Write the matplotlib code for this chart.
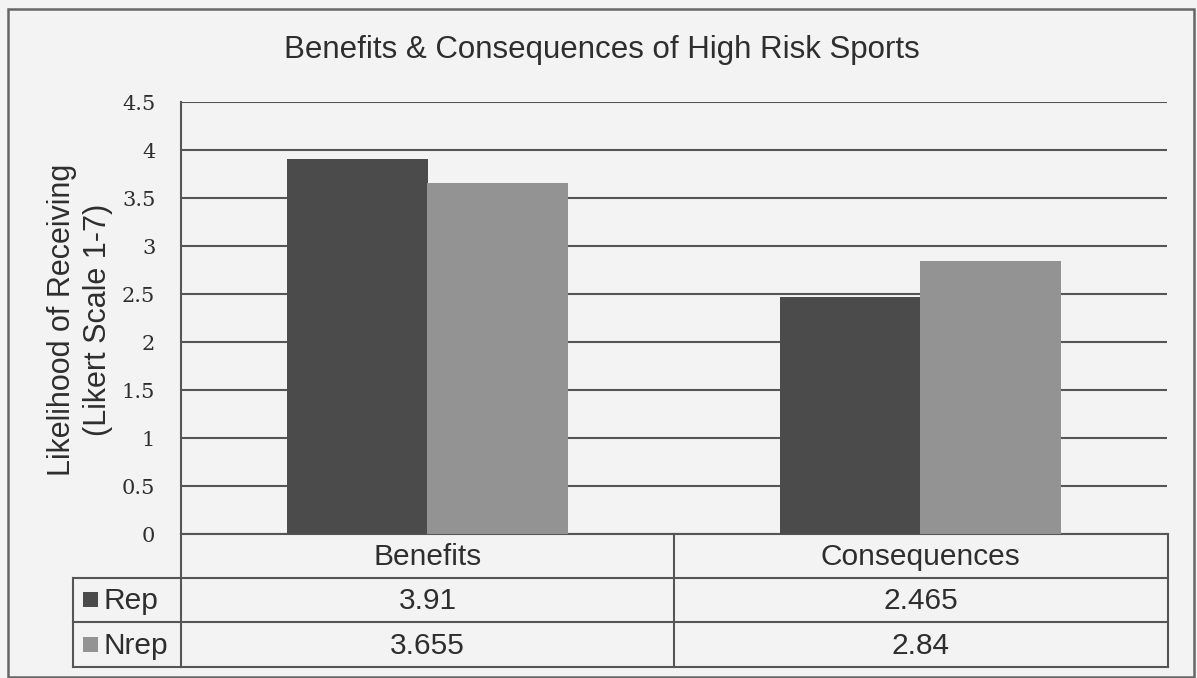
import matplotlib
matplotlib.use("Agg")
import matplotlib.pyplot as plt
from matplotlib.patches import Rectangle
from matplotlib.transforms import blended_transform_factory
import numpy as np

# ---- data ----
categories = ["Benefits", "Consequences"]
series_names = ["Rep", "Nrep"]
rep_values = [3.91, 2.465]
nrep_values = [3.655, 2.84]
value_labels = [["3.91", "2.465"], ["3.655", "2.84"]]
y_ticks = [0, 0.5, 1, 1.5, 2, 2.5, 3, 3.5, 4, 4.5]
y_tick_labels = ["0", "0.5", "1", "1.5", "2", "2.5", "3", "3.5", "4", "4.5"]
title = "Benefits & Consequences of High Risk Sports"
y_label = "Likelihood of Receiving\n(Likert Scale 1-7)"

# ---- style ----
W, H = 1197, 678
BG = "#f3f3f3"
LINE = "#555555"
TEXT = "#2e2e2e"
REP_COLOR = "#4b4b4b"
NREP_COLOR = "#939393"
SANS = "Liberation Sans"
SERIF = "DejaVu Serif"
TABLE_FS = 21.5

fig = plt.figure(figsize=(W / 100, H / 100), dpi=100, facecolor=BG)

# pixel-space overlay for frame, title and data table
ov = fig.add_axes([0, 0, 1, 1], zorder=0)
ov.set_xlim(0, W)
ov.set_ylim(H, 0)
ov.axis("off")
ov.patch.set_alpha(0)

# plot area (pixels)
left, right, top, bottom = 181, 1167, 102, 534
ax = fig.add_axes([left / W, 1 - bottom / H, (right - left) / W, (bottom - top) / H], zorder=1)
ax.patch.set_alpha(0)

x = np.arange(len(categories))
bw = 0.2857
ax.bar(x - bw / 2, rep_values, width=bw, color=REP_COLOR, zorder=3)
ax.bar(x + bw / 2, nrep_values, width=bw, color=NREP_COLOR, zorder=3)

ax.set_xlim(-0.5, len(categories) - 0.5)
ax.set_ylim(0, 4.5)
ax.set_yticks(y_ticks)
ax.set_yticklabels(y_tick_labels, fontfamily=SERIF, fontsize=15, color=TEXT)
ax.set_xticks([])
ax.tick_params(axis="y", length=0, pad=18.5)
ax.yaxis.grid(True, color=LINE, linewidth=1.5, zorder=0)
for s in ["top", "right", "bottom"]:
    ax.spines[s].set_visible(False)
ax.spines["left"].set_color(LINE)
ax.spines["left"].set_linewidth(1.5)

# outer chart border
ov.add_patch(Rectangle((8, 9), 1186, 668, fill=False, edgecolor="#666666", linewidth=1.8))

# title and axis label
ov.text(602, 50, title, ha="center", va="center", fontsize=22.5, family=SANS, color=TEXT)
ov.text(80, 320, y_label, ha="center", va="center", rotation=90, fontsize=22,
        family=SANS, color=TEXT, multialignment="center", linespacing=1.3)

# data table beneath the plot
row_tops = [534, 578, 622, 667]
tab_left, col_sep = 73, 181
cat_edges = [181, 674, 1168]
lw = 1.5
ov.plot([left, cat_edges[-1]], [row_tops[0], row_tops[0]], color=LINE, lw=lw)
for yy in row_tops[1:]:
    ov.plot([tab_left, cat_edges[-1]], [yy, yy], color=LINE, lw=lw)
ov.plot([tab_left, tab_left], [row_tops[1], row_tops[-1]], color=LINE, lw=lw)
ov.plot([col_sep, col_sep], [row_tops[0], row_tops[-1]], color=LINE, lw=lw)
for xx in cat_edges[1:]:
    ov.plot([xx, xx], [row_tops[0], row_tops[-1]], color=LINE, lw=lw)

# category header and value cells, positioned by category index
tr = blended_transform_factory(ax.transData, ov.transData)
for i, cat in enumerate(categories):
    ov.text(i, (row_tops[0] + row_tops[1]) / 2 + 1, cat, transform=tr, ha="center", va="center",
            fontsize=TABLE_FS, family=SANS, color=TEXT)
    for r in range(len(series_names)):
        yc = (row_tops[r + 1] + row_tops[r + 2]) / 2 + 1
        ov.text(i, yc, value_labels[r][i], transform=tr, ha="center", va="center",
                fontsize=TABLE_FS, family=SANS, color=TEXT)

# row headers with legend keys
for r, (name, col) in enumerate(zip(series_names, [REP_COLOR, NREP_COLOR])):
    yc = (row_tops[r + 1] + row_tops[r + 2]) / 2
    ov.add_patch(Rectangle((83, yc - 8), 15, 15, facecolor=col, edgecolor="none"))
    ov.text(104, yc + 1, name, ha="left", va="center", fontsize=TABLE_FS, family=SANS, color=TEXT)

fig.savefig("out.png", dpi=100, facecolor=BG)
